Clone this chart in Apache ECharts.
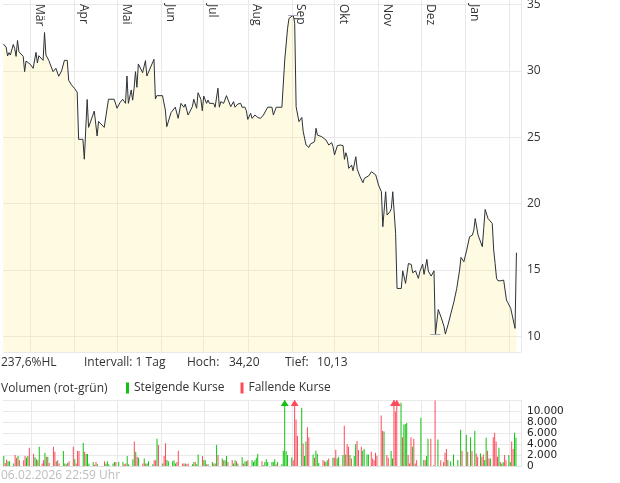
<!DOCTYPE html>
<html><head><meta charset="utf-8">
<script src="https://cdn.jsdelivr.net/npm/echarts@6/dist/echarts.min.js"></script>
<style>html,body{margin:0;padding:0;background:#fff}#c{width:620px;height:483px}</style>
</head><body><div id="c"></div>
<script>
const MONTH_LABELS = ['Jan','Feb','Mär','Apr','Mai','Jun','Jul','Aug','Sep','Okt','Nov','Dez'];

const PRICE_DATES = [
'2025-02-10','2025-02-12','2025-02-13','2025-02-14','2025-02-15','2025-02-17','2025-02-18','2025-02-19','2025-02-20','2025-02-21',
'2025-02-24','2025-02-25','2025-02-26','2025-03-01','2025-03-03','2025-03-05','2025-03-06','2025-03-07','2025-03-10','2025-03-11',
'2025-03-12','2025-03-14','2025-03-17','2025-03-19','2025-03-21','2025-03-23','2025-03-25','2025-03-27','2025-03-28','2025-03-30',
'2025-04-01','2025-04-03','2025-04-04','2025-04-07','2025-04-08','2025-04-10','2025-04-11','2025-04-12','2025-04-15','2025-04-17',
'2025-04-18','2025-04-22','2025-04-25','2025-04-29','2025-05-01','2025-05-03','2025-05-05','2025-05-07','2025-05-08','2025-05-09',
'2025-05-11','2025-05-12','2025-05-13','2025-05-14','2025-05-15','2025-05-16','2025-05-19','2025-05-21','2025-05-22','2025-05-23',
'2025-05-27','2025-05-28','2025-05-29','2025-06-02','2025-06-04','2025-06-05','2025-06-08','2025-06-11','2025-06-13','2025-06-15',
'2025-06-17','2025-06-18','2025-06-20','2025-06-23','2025-06-24','2025-06-26','2025-06-27','2025-06-29','2025-06-30','2025-07-01',
'2025-07-03','2025-07-04','2025-07-05','2025-07-08','2025-07-09','2025-07-11','2025-07-12','2025-07-13','2025-07-15','2025-07-17',
'2025-07-18','2025-07-20','2025-07-22','2025-07-23','2025-07-25','2025-07-27','2025-07-28','2025-07-30','2025-07-31','2025-08-01',
'2025-08-03','2025-08-04','2025-08-06','2025-08-08','2025-08-10','2025-08-12','2025-08-15','2025-08-18','2025-08-19','2025-08-21',
'2025-08-25','2025-08-27','2025-08-29','2025-08-30','2025-09-02','2025-09-03','2025-09-04','2025-09-06','2025-09-08','2025-09-09',
'2025-09-11','2025-09-13','2025-09-14','2025-09-17','2025-09-18','2025-09-19','2025-09-22','2025-09-23','2025-09-25','2025-09-26',
'2025-09-27','2025-09-29','2025-09-30','2025-10-01','2025-10-03','2025-10-05','2025-10-07','2025-10-08','2025-10-09','2025-10-10',
'2025-10-11','2025-10-13','2025-10-14','2025-10-16','2025-10-17','2025-10-19','2025-10-21','2025-10-22','2025-10-25','2025-10-27',
'2025-10-30','2025-11-01','2025-11-03','2025-11-04','2025-11-06','2025-11-07','2025-11-09','2025-11-10','2025-11-11','2025-11-13',
'2025-11-14','2025-11-17','2025-11-18','2025-11-20','2025-11-21','2025-11-22','2025-11-24','2025-11-25','2025-11-27','2025-11-29',
'2025-11-30','2025-12-02','2025-12-03','2025-12-05','2025-12-06','2025-12-08','2025-12-10','2025-12-11','2025-12-13','2025-12-15',
'2025-12-17','2025-12-18','2025-12-20','2025-12-22','2025-12-24','2025-12-26','2025-12-28','2025-12-29','2025-12-31','2026-01-02',
'2026-01-04','2026-01-06','2026-01-07','2026-01-08','2026-01-10','2026-01-13','2026-01-14','2026-01-15','2026-01-17','2026-01-20',
'2026-01-21','2026-01-22','2026-01-23','2026-01-24','2026-01-25','2026-01-26','2026-01-28','2026-01-29','2026-01-30','2026-01-31',
'2026-02-02','2026-02-05','2026-02-06'
];
const PRICE_VALUES = [
32.04,31.8,31.13,31.38,31.2,32.0,31.7,31.1,32.3,31.45,
31.1,29.95,30.75,30.5,30.2,31.4,30.6,31.15,30.8,32.9,
31.2,30.8,29.95,30.2,29.6,30.0,30.8,30.8,29.3,28.95,
28.7,28.4,24.85,24.85,23.35,27.85,25.75,25.8,26.98,25.1,
26.2,25.75,27.87,27.87,27.19,27.6,27.87,27.56,29.62,27.56,
28.57,27.8,28.7,29.95,28.77,30.53,29.87,30.78,29.62,29.62,
30.88,27.89,28.14,28.14,27.06,25.8,26.86,27.27,26.43,27.56,
27.27,27.5,26.68,27.31,27.87,27.19,28.36,27.87,27.0,28.11,
27.56,27.81,27.56,27.56,27.27,28.7,27.27,27.69,27.56,28.14,
27.87,27.31,27.69,27.27,27.51,27.56,27.27,27.27,27.0,26.35,
26.81,26.43,26.68,26.5,26.43,26.68,27.27,27.27,26.68,27.27,
27.27,30.83,33.22,33.97,34.2,33.6,27.31,26.18,26.5,25.42,
24.42,24.24,24.49,24.67,25.68,25.17,25.05,24.92,24.8,24.85,
24.42,24.6,24.29,23.67,24.37,24.42,24.38,23.34,23.84,23.49,
22.66,22.91,22.48,23.54,22.59,22.03,21.58,21.91,22.09,22.41,
22.17,21.4,20.9,18.26,20.9,19.14,19.39,19.64,20.9,17.76,
13.61,13.61,14.94,13.99,14.11,15.49,15.42,14.79,14.94,14.37,
14.86,15.44,14.67,15.8,14.92,14.54,14.94,10.13,12.02,11.43,
10.77,10.17,10.92,11.77,12.6,13.61,14.99,15.95,15.62,16.5,
17.5,17.63,18.0,18.88,17.63,16.76,18.14,19.57,18.88,18.51,
16.5,15.5,14.37,14.19,14.29,14.19,14.24,14.24,12.73,12.53,
12.1,10.6,16.3
];

const VOL_DATES = [
'2025-02-10','2025-02-11','2025-02-12','2025-02-13','2025-02-14','2025-02-17','2025-02-18','2025-02-19','2025-02-20','2025-02-21',
'2025-02-24','2025-02-25','2025-02-26','2025-02-27','2025-02-28','2025-03-03','2025-03-04','2025-03-05','2025-03-06','2025-03-07',
'2025-03-09','2025-03-10','2025-03-11','2025-03-12','2025-03-13','2025-03-14','2025-03-17','2025-03-18','2025-03-19','2025-03-20',
'2025-03-21','2025-03-24','2025-03-25','2025-03-26','2025-03-27','2025-03-28','2025-03-31','2025-04-01','2025-04-02','2025-04-03',
'2025-04-04','2025-04-07','2025-04-08','2025-04-09','2025-04-10','2025-04-11','2025-04-14','2025-04-15','2025-04-16','2025-04-17',
'2025-04-22','2025-04-23','2025-04-24','2025-04-25','2025-04-28','2025-04-29','2025-04-30','2025-05-02','2025-05-05','2025-05-06',
'2025-05-07','2025-05-08','2025-05-09','2025-05-12','2025-05-13','2025-05-14','2025-05-15','2025-05-16','2025-05-19','2025-05-20',
'2025-05-21','2025-05-22','2025-05-23','2025-05-26','2025-05-27','2025-05-28','2025-05-29','2025-05-30','2025-06-02','2025-06-03',
'2025-06-04','2025-06-05','2025-06-06','2025-06-09','2025-06-10','2025-06-11','2025-06-12','2025-06-13','2025-06-16','2025-06-17',
'2025-06-18','2025-06-19','2025-06-20','2025-06-23','2025-06-24','2025-06-25','2025-06-26','2025-06-27','2025-06-30','2025-07-01',
'2025-07-02','2025-07-03','2025-07-04','2025-07-07','2025-07-08','2025-07-09','2025-07-10','2025-07-11','2025-07-14','2025-07-15',
'2025-07-16','2025-07-17','2025-07-18','2025-07-21','2025-07-22','2025-07-23','2025-07-24','2025-07-25','2025-07-28','2025-07-29',
'2025-07-30','2025-07-31','2025-08-01','2025-08-04','2025-08-05','2025-08-06','2025-08-07','2025-08-08','2025-08-11','2025-08-12',
'2025-08-13','2025-08-14','2025-08-15','2025-08-18','2025-08-19','2025-08-20','2025-08-21','2025-08-22','2025-08-25','2025-08-26',
'2025-08-27','2025-08-28','2025-08-29','2025-09-01','2025-09-02','2025-09-03','2025-09-04','2025-09-05','2025-09-08','2025-09-09',
'2025-09-10','2025-09-11','2025-09-12','2025-09-13','2025-09-16','2025-09-17','2025-09-18','2025-09-19','2025-09-20','2025-09-23',
'2025-09-24','2025-09-25','2025-09-26','2025-09-27','2025-09-30','2025-10-01','2025-10-02','2025-10-03','2025-10-04','2025-10-07',
'2025-10-08','2025-10-09','2025-10-10','2025-10-11','2025-10-12','2025-10-13','2025-10-15','2025-10-16','2025-10-17','2025-10-18',
'2025-10-20','2025-10-21','2025-10-22','2025-10-24','2025-10-25','2025-10-27','2025-10-28','2025-10-29','2025-10-30','2025-10-31',
'2025-11-03','2025-11-04','2025-11-05','2025-11-07','2025-11-08','2025-11-10','2025-11-11','2025-11-12','2025-11-13','2025-11-14',
'2025-11-17','2025-11-18','2025-11-19','2025-11-20','2025-11-21','2025-11-22','2025-11-23','2025-11-24','2025-11-25','2025-11-26',
'2025-11-27','2025-11-28','2025-12-01','2025-12-03','2025-12-04','2025-12-05','2025-12-06','2025-12-08','2025-12-10','2025-12-11',
'2025-12-13','2025-12-15','2025-12-17','2025-12-18','2025-12-19','2025-12-20','2025-12-22','2025-12-24','2025-12-27','2025-12-29',
'2025-12-30','2026-01-02','2026-01-03','2026-01-05','2026-01-06','2026-01-08','2026-01-09','2026-01-10','2026-01-12','2026-01-13',
'2026-01-14','2026-01-15','2026-01-16','2026-01-17','2026-01-18','2026-01-19','2026-01-21','2026-01-22','2026-01-23','2026-01-24',
'2026-01-25','2026-01-26','2026-01-27','2026-01-28','2026-01-29','2026-01-30','2026-02-01','2026-02-02','2026-02-03','2026-02-04',
'2026-02-05','2026-02-06'
];
const VOL_VALUES = [
1800,555,1180,870,870,440,1980,1480,1800,1050,
1050,1800,1480,1800,3330,2160,1600,1230,1050,3520,
440,1050,2400,1700,1700,555,3520,2590,870,1050,
440,2710,440,310,555,870,3520,1230,440,2710,
2710,4250,2590,2160,2160,440,740,250,740,310,
870,440,870,310,440,740,740,740,740,310,
440,1800,310,1230,4440,2590,1700,1480,440,1360,
440,440,870,310,1050,1050,4940,3830,440,1800,
4140,1110,870,870,1050,440,740,2770,440,440,
440,310,440,310,740,740,310,2100,1800,1110,
1050,310,310,740,440,440,3830,1980,1360,1050,
1050,1800,740,1110,440,1050,870,440,1600,440,
870,870,1050,1110,740,1050,1480,2160,870,130,
740,1230,740,740,740,1230,310,740,310,2770,
15000,2710,1980,1540,1050,14000,8450,5490,10600,4080,
1800,4440,7040,5250,2100,1480,2770,2160,555,1110,
870,740,1050,1360,1480,1480,2960,1360,1700,1980,
7340,2100,3950,3520,1980,1360,1800,3950,4560,2890,
3520,2770,3090,2100,2100,2590,1360,1050,2400,1850,
9190,6420,6290,1980,1480,2710,1360,15000,9900,14000,
11500,5250,7530,7650,7830,1980,440,5250,3520,4940,
440,1050,8760,1110,1110,1800,4940,4940,130,11900,
4820,1050,740,2400,3090,1110,870,2100,1110,6610,
2770,5680,2590,5250,2710,6420,2280,1700,2280,1700,
2100,1110,5130,2770,1360,1360,5250,6030,4440,1700,
3330,740,440,740,1980,1050,1980,740,4440,3090,
6030,5130
];
// 1 = steigend (green), -1 = fallend (red)
const VOL_DIR = [
1,-1,-1,1,1,1,-1,-1,1,-1,
-1,-1,1,1,-1,-1,1,1,-1,1,
-1,-1,1,-1,1,-1,-1,-1,1,-1,
-1,1,1,-1,1,-1,-1,1,-1,-1,
-1,1,-1,1,1,1,1,-1,-1,1,
-1,1,1,1,1,1,-1,1,1,-1,
-1,1,1,1,-1,1,-1,1,-1,1,
-1,1,1,1,-1,-1,1,-1,1,-1,
-1,1,1,1,1,1,-1,-1,-1,-1,
1,-1,-1,1,1,-1,1,1,-1,1,
1,-1,1,1,-1,1,1,-1,1,-1,
1,1,-1,-1,1,1,-1,1,1,-1,
1,1,-1,1,1,1,1,1,-1,1,
1,1,1,1,1,1,-1,1,1,1,
1,1,1,1,-1,-1,-1,-1,1,-1,
1,1,-1,-1,1,-1,1,1,1,-1,
-1,1,1,-1,1,-1,-1,1,1,1,
-1,1,-1,-1,1,-1,1,1,-1,-1,
-1,1,1,1,1,-1,-1,-1,-1,-1,
-1,-1,1,-1,-1,1,1,-1,-1,-1,
1,-1,1,1,1,-1,-1,-1,1,-1,
-1,-1,1,1,-1,1,1,-1,1,-1,
1,-1,-1,-1,-1,1,1,1,1,1,
-1,1,-1,1,-1,1,-1,-1,1,-1,
-1,1,1,-1,-1,1,-1,-1,-1,-1,
1,-1,1,1,-1,-1,1,1,-1,-1,
1,1
];
const VOL_MAX = 12000;
const UP_NAME = 'Steigende Kurse';
const DOWN_NAME = 'Fallende Kurse';
const VOLUME_TITLE = 'Volumen (rot-grün)';
const INTERVAL_TEXT = 'Intervall: 1 Tag';
const STAMP_TEXT = '06.02.2026 22:59 Uhr';

const FONT = 'Open Sans';
const DAY = 86400000;
function de(n, d) { return n.toFixed(d).replace('.', ','); }
function thousands(v) { return String(v).replace(/\B(?=(\d{3})+(?!\d))/g, '.'); }

const hi = Math.max(...PRICE_VALUES), lo = Math.min(...PRICE_VALUES);
const hiT = new Date(PRICE_DATES[PRICE_VALUES.indexOf(hi)]).getTime();
const loT = new Date(PRICE_DATES[PRICE_VALUES.indexOf(lo)]).getTime();
const hlText = de((hi - lo) / lo * 100, 1) + '%HL';

const priceData = PRICE_DATES.map((d, i) => [d, PRICE_VALUES[i]]);
const upData = [], downData = [], upArrows = [], downArrows = [];
VOL_DATES.forEach((d, i) => {
  const item = [d, VOL_VALUES[i]];
  const tgt = VOL_DIR[i] > 0 ? upData : downData;
  tgt.push(item);
  if (VOL_VALUES[i] > VOL_MAX) (VOL_DIR[i] > 0 ? upArrows : downArrows).push({ coord: [d, VOL_MAX] });
});

const X_MIN = '2025-02-09 19:00', X_MAX = '2026-02-09 05:00';
const gridColor = '#e9e9e9';
const monthFmt = v => { const m = new Date(v).getMonth(); return m === 1 ? '' : MONTH_LABELS[m]; };
const txt = (text, left, top, color) => ({ text, left, top, padding: 0,
  textStyle: { fontFamily: FONT, fontSize: 12, fontWeight: 'normal', color: color || '#333', lineHeight: 14 } });

const chart = echarts.init(document.getElementById('c'), null, { renderer: 'canvas' });
chart.setOption({
  animation: false,
  backgroundColor: '#fff',
  title: [
    txt(hlText, 1, 356),
    txt(INTERVAL_TEXT, 84, 356),
    txt('Hoch:', 187, 356),
    txt(de(hi, 2), 229, 356),
    txt('Tief:', 285, 356),
    txt(de(lo, 2), 317, 356),
    txt(VOLUME_TITLE, 1, 382),
    txt(STAMP_TEXT, 1, 469, '#bdbdbd')
  ],
  legend: {
    data: [UP_NAME, DOWN_NAME], left: 126, top: 382, padding: 0,
    icon: 'rect', itemWidth: 3, itemHeight: 11, itemGap: 16, selectedMode: false,
    textStyle: { fontFamily: FONT, fontSize: 12, color: '#333', padding: [0, 0, 0, 0] }
  },
  grid: [
    { left: 3, right: 99, top: 0, height: 352, containLabel: false, outerBoundsMode: 'none' },
    { left: 3, right: 99, top: 400, height: 66, containLabel: false, outerBoundsMode: 'none' }
  ],
  xAxis: [
    { type: 'time', gridIndex: 0, min: X_MIN, max: X_MAX, position: 'top',
      splitNumber: 12, minInterval: 28 * DAY, maxInterval: 31 * DAY,
      axisLine: { show: false }, axisTick: { show: false },
      axisLabel: { inside: true, rotate: 90, margin: 4, align: 'left', verticalAlign: 'bottom',
        padding: [0, 0, 3, 0], fontFamily: FONT, fontSize: 12, color: '#333', formatter: monthFmt,
        hideOverlap: false },
      splitLine: { show: true, showMinLine: false, lineStyle: { color: gridColor, width: 1 } } },
    { type: 'time', gridIndex: 1, min: X_MIN, max: X_MAX,
      splitNumber: 12, minInterval: 28 * DAY, maxInterval: 31 * DAY,
      axisLine: { show: true, lineStyle: { color: '#e0e0e0' } }, axisTick: { show: false },
      axisLabel: { show: false },
      splitLine: { show: true, showMinLine: false, lineStyle: { color: gridColor, width: 1 } } }
  ],
  yAxis: [
    { type: 'value', gridIndex: 0, position: 'right', min: 8.82, max: 35.35, splitNumber: 5,
      axisLine: { show: true, lineStyle: { color: gridColor } }, axisTick: { show: false },
      axisLabel: { showMinLabel: false, showMaxLabel: false, margin: 6, fontFamily: FONT, fontSize: 12, color: '#333' },
      splitLine: { show: true, showMaxLine: false, lineStyle: { color: gridColor } } },
    { type: 'value', gridIndex: 1, position: 'right', min: 0, max: VOL_MAX, interval: 2000,
      axisLine: { show: true, lineStyle: { color: gridColor } }, axisTick: { show: false },
      axisLabel: { showMaxLabel: false, margin: 6, fontFamily: 'DejaVu Sans', fontSize: 10.5, color: '#222',
        formatter: thousands },
      splitLine: { show: true, lineStyle: { color: gridColor } } }
  ],
  series: [
    { type: 'line', name: 'Kurs', xAxisIndex: 0, yAxisIndex: 0, data: priceData,
      symbol: 'none', showSymbol: false, silent: true,
      lineStyle: { color: '#2b3238', width: 1 },
      areaStyle: { color: 'rgba(255,235,140,0.36)', origin: 'start' },
      markLine: { silent: true, symbol: 'none', label: { show: false },
        lineStyle: { color: '#a3a3bb', width: 1, type: 'solid' },
        data: [
          [{ coord: [hiT - 3.5 * DAY, hi] }, { coord: [hiT + 3.5 * DAY, hi] }],
          [{ coord: [loT - 3.5 * DAY, lo] }, { coord: [loT + 3.5 * DAY, lo] }]
        ] } },
    { type: 'bar', name: UP_NAME, xAxisIndex: 1, yAxisIndex: 1, data: upData,
      barWidth: 1, barGap: '-100%', clip: true, silent: true,
      itemStyle: { color: '#12c212' },
      markPoint: { symbol: 'triangle', symbolSize: [8, 6], symbolOffset: [0, 3], silent: true,
        label: { show: false }, itemStyle: { color: '#12c212' }, data: upArrows } },
    { type: 'bar', name: DOWN_NAME, xAxisIndex: 1, yAxisIndex: 1, data: downData,
      barWidth: 1, barGap: '-100%', clip: true, silent: true,
      itemStyle: { color: '#fb4b5b' },
      markPoint: { symbol: 'triangle', symbolSize: [8, 6], symbolOffset: [0, 3], silent: true,
        label: { show: false }, itemStyle: { color: '#fb4b5b' }, data: downArrows } }
  ]
});
</script></body></html>
